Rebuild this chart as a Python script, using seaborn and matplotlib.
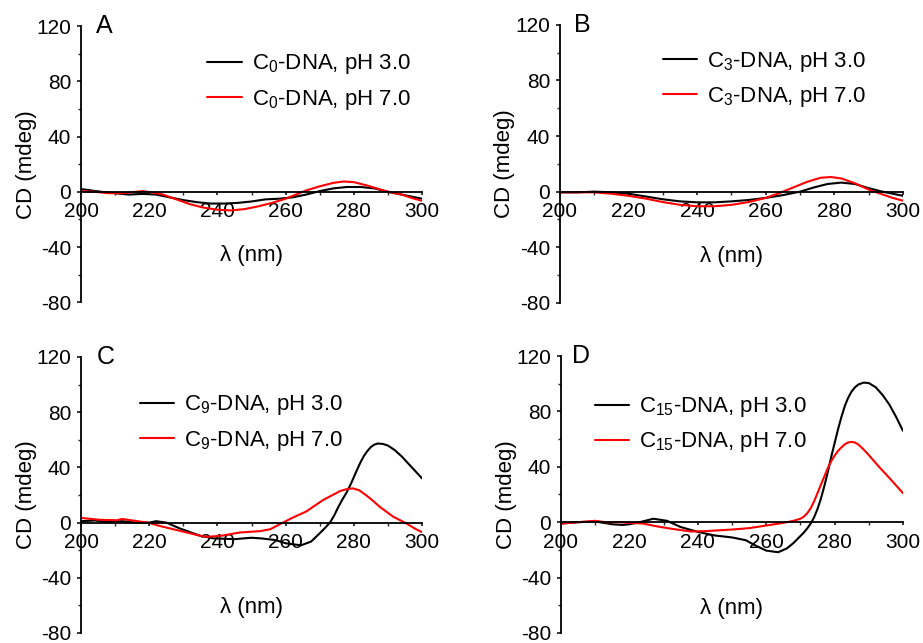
import matplotlib
matplotlib.use('Agg')
import matplotlib.pyplot as plt
from matplotlib.ticker import MultipleLocator
import seaborn as sns

# ---- Panel A : C0-DNA ----
a_x_ph3 = [200, 203, 206, 210, 214, 218, 222, 226, 230, 234, 238, 242, 246, 250,
           254, 258, 262, 266, 270, 274, 278, 282, 286, 290, 294, 297, 300]
a_y_ph3 = [2, 1, 0, -1, -2, -1.5, -2, -4, -6, -7.5, -8.5, -8.5, -8, -7,
           -5.5, -5, -4, -2, 0.5, 2.5, 3.5, 3.5, 2.5, 0, -2, -3.5, -5]
a_x_ph7 = [200, 204, 208, 212, 216, 218, 221, 224, 228, 232, 236, 240, 244, 248, 252,
           256, 260, 263, 266, 270, 274, 277, 280, 284, 288, 291, 294, 297, 300]
a_y_ph7 = [0.5, 0, -1, -1, 0, 0.5, -0.5, -2, -5.5, -9, -11.5, -13, -13.5, -12.5, -10.5,
           -8, -5, -2, 1, 4, 6.5, 7.5, 7, 4.5, 1.5, -0.5, -2, -4.5, -6.5]

# ---- Panel B : C3-DNA ----
b_x_ph3 = [200, 205, 210, 215, 220, 225, 230, 235, 240, 245, 250, 255, 260, 265,
           270, 274, 278, 282, 286, 290, 294, 297, 300]
b_y_ph3 = [-0.5, -0.5, 0, -0.5, -1.5, -3.5, -5.5, -7, -7.7, -7.7, -7, -6, -4.5, -2.5,
           0, 3, 5.5, 6.5, 5.5, 2.5, 0, -1.5, -3]
b_x_ph7 = [200, 205, 210, 215, 220, 225, 230, 235, 240, 245, 250, 255, 260, 264,
           268, 272, 276, 279, 282, 286, 290, 294, 297, 300]
b_y_ph7 = [-0.5, -0.5, -0.5, -1.5, -3, -5, -7.5, -9.5, -10.5, -10.5, -9.5, -7.5, -4.5, -1,
           3, 7, 10, 10.5, 9.5, 6, 1.5, -2, -4.5, -6.5]

# ---- Panel C : C9-DNA ----
c_x_ph3 = [200, 204, 208, 212, 216, 220, 222, 225, 229, 235, 239, 245, 250, 253, 257,
           260, 264.5, 267.5, 270, 271.5, 273, 274.2, 275.5, 276.7, 278, 279.3, 280.7,
           282, 283, 284, 285, 286, 287, 288.5, 290, 292, 294, 297, 300]
c_y_ph3 = [1, 1.5, 0.5, 1, 0, 0, 1, 0, -4.3, -9.6, -11.5, -12, -11, -11.5, -12.7,
           -15, -16.5, -13.7, -7.7, -4, 0, 5, 11.6, 17, 22.4, 29, 37,
           44, 48.5, 52, 54.8, 56.5, 57.3, 57, 55.8, 52.5, 48, 40, 32]
c_x_ph7 = [200, 205.5, 210.5, 212, 215.5, 219.5, 223, 229, 235, 237, 241, 246.5, 252.5,
           255.5, 259.2, 262, 266, 271, 276, 278, 279.7, 281.5, 283.5, 285.5, 287.5,
           291.5, 295.3, 298, 300]
c_y_ph7 = [3.4, 2, 1.7, 2.6, 1.4, 0, -2.4, -6, -9.6, -10.3, -9.6, -7.2, -6.2,
           -4.8, 0, 3.5, 8, 16.4, 22.9, 24.3, 24.8, 23.5, 20, 16, 11.6,
           4.3, -0.5, -4.5, -7]

# ---- Panel D : C15-DNA ----
d_x_ph3 = [200, 205, 210, 215, 218, 220, 223, 227, 231, 235, 240, 245, 250, 254, 257,
           260, 263.5, 266, 268, 270, 271, 272, 273, 274, 275, 276, 277, 278, 279, 280,
           281, 282, 283, 284, 285, 286, 287, 288.5, 290, 292, 294, 296, 298, 300]
d_y_ph3 = [-1, 0, 0.5, -1.5, -2, -1.5, 0, 2.5, 1, -3.5, -7, -9.6, -11, -13, -17,
           -20.5, -21.7, -19, -15, -10, -7.5, -4.5, -1, 3.5, 9.5, 17, 26, 36, 47, 57,
           67, 76, 84, 90, 94.5, 97.5, 99.5, 100.8, 100.5, 97.5, 92, 85, 76, 66]
d_x_ph7 = [200, 205, 210, 213, 217, 220, 224, 228, 233, 238, 242, 250, 255, 260, 265,
           268, 270, 271, 272, 273, 274, 275, 276, 277, 278, 279, 280, 281, 282, 283,
           284, 285, 286, 287, 288.5, 290, 293, 296, 300]
d_y_ph7 = [-1, 0, 1, 0, 0, -0.5, -1, -3, -5, -6.7, -6.5, -5.3, -4.3, -2.4, -0.5,
           1, 2.5, 4, 6.5, 10, 15, 21, 27, 33, 39, 44, 48, 51.5, 54, 56.3,
           57.6, 58, 57.5, 56, 52.5, 48.5, 40, 32, 21]

panel_letters = ['A', 'B', 'C', 'D']
sample_names = ['C$_0$-DNA', 'C$_3$-DNA', 'C$_9$-DNA', 'C$_{15}$-DNA']
x_ticks = [200, 220, 240, 260, 280, 300]
y_ticks = [-80, -40, 0, 40, 80, 120]

sns.set_theme(style='ticks')
plt.rcParams['font.family'] = ['Liberation Sans', 'DejaVu Sans']
plt.rcParams['mathtext.fontset'] = 'custom'
plt.rcParams['mathtext.rm'] = 'Liberation Sans'
plt.rcParams['mathtext.it'] = 'Liberation Sans:italic'
plt.rcParams['mathtext.default'] = 'regular'
plt.rcParams['axes.unicode_minus'] = False
plt.rcParams['text.color'] = 'black'

fig = plt.figure(figsize=(9.23, 6.43), dpi=100)

# position des axes [left, bottom, width, height]
axes_pos = [
    [0.0878, 0.530, 0.3695, 0.4292],
    [0.6067, 0.529, 0.3716, 0.4324],
    [0.0878, 0.0156, 0.3695, 0.4292],
    [0.6078, 0.0156, 0.3705, 0.4307],
]
legend_anchor = [(0.37, 0.905), (0.30, 0.91), (0.173, 0.868), (0.099, 0.858)]
letter_x = [0.045, 0.042, 0.045, 0.033]
xlabel_y = [0.170, 0.165, 0.094, 0.090]

series = [
    (a_x_ph3, a_y_ph3, a_x_ph7, a_y_ph7),
    (b_x_ph3, b_y_ph3, b_x_ph7, b_y_ph7),
    (c_x_ph3, c_y_ph3, c_x_ph7, c_y_ph7),
    (d_x_ph3, d_y_ph3, d_x_ph7, d_y_ph7),
]

for i, (x3, y3, x7, y7) in enumerate(series):
    ax = fig.add_axes(axes_pos[i])
    sns.lineplot(x=x3, y=y3, color='black', linewidth=1.5,
                 label=f'{sample_names[i]}, pH 3.0', ax=ax)
    sns.lineplot(x=x7, y=y7, color='#ff0000', linewidth=1.5,
                 label=f'{sample_names[i]}, pH 7.0', ax=ax)

    ax.set_xlim(200, 300)
    ax.set_ylim(-80, 120)
    ax.set_xticks(x_ticks)
    ax.set_yticks(y_ticks)
    ax.xaxis.set_minor_locator(MultipleLocator(10))
    ax.yaxis.set_minor_locator(MultipleLocator(20))

    # axe x au niveau de y = 0, sans cadre haut/droite
    ax.spines['top'].set_visible(False)
    ax.spines['right'].set_visible(False)
    ax.spines['bottom'].set_position(('data', 0))
    for side in ['left', 'bottom']:
        ax.spines[side].set_linewidth(1.3)
        ax.spines[side].set_color('black')

    ax.tick_params(axis='x', which='major', direction='out', length=2.5, width=1.1,
                   pad=5, labelsize=15, colors='black')
    ax.tick_params(axis='x', which='minor', direction='out', length=2, width=1.0)
    ax.tick_params(axis='y', which='major', direction='out', length=3, width=1.1,
                   pad=4, labelsize=15, colors='black')
    ax.tick_params(axis='y', which='minor', direction='out', length=2, width=1.0)

    ax.set_xlabel('')
    ax.set_ylabel('CD (mdeg)', fontsize=16, color='black')
    ax.yaxis.set_label_coords(-0.13, 0.5)
    ax.text(0.5, xlabel_y[i], 'λ (nm)', transform=ax.transAxes,
            ha='center', va='center', fontsize=16, color='black')
    ax.text(letter_x[i], 1.0, panel_letters[i], transform=ax.transAxes,
            ha='left', va='center', fontsize=18, color='black')

    ax.legend(loc='upper left', bbox_to_anchor=legend_anchor[i], frameon=False,
              fontsize=16, labelcolor='black', borderpad=0, borderaxespad=0,
              handlelength=1.55, handletextpad=0.45, labelspacing=0.5)

plt.savefig('out.png', dpi=100)
plt.close()
